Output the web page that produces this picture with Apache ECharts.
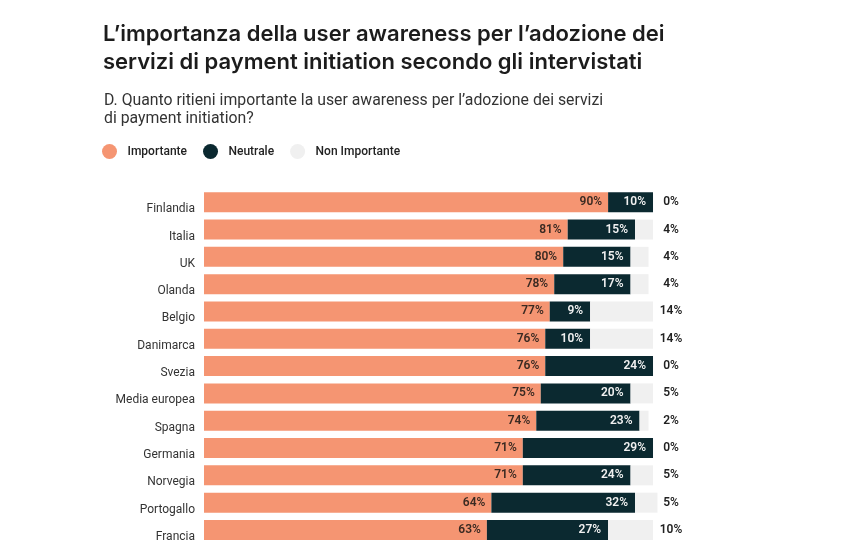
<!DOCTYPE html>
<html>
<head>
<meta charset="utf-8">
<script src="https://cdn.jsdelivr.net/npm/echarts@6/dist/echarts.min.js"></script>
<style>
html,body{margin:0;padding:0;background:#fff;}
#chart{width:850px;height:560px;}
</style>
</head>
<body>
<div id="chart"></div>
<script>
const titleText = "L’importanza della user awareness per l’adozione dei\nservizi di payment initiation secondo gli intervistati";
const subtitleText = "D. Quanto ritieni importante la user awareness per l’adozione dei servizi\ndi payment initiation?";
const categories = ["Finlandia","Italia","UK","Olanda","Belgio","Danimarca","Svezia","Media europea","Spagna","Germania","Norvegia","Portogallo","Francia"];
const importante = [90,81,80,78,77,76,76,75,74,71,71,64,63];
const neutrale = [10,15,15,17,9,10,24,20,23,29,24,32,27];
const nonImportante = [0,4,4,4,14,14,0,5,2,0,5,5,10];
const seriesNames = ["Importante","Neutrale","Non Importante"];
const colors = ["#F59572","#0B2930","#F0F0F0"];

const chart = echarts.init(document.getElementById('chart'));
const font = 'Roboto';
chart.setOption({
  backgroundColor: '#ffffff',
  animation: false,
  title: [
    {text: titleText, left: 98, top: 15,
     textStyle: {fontFamily: 'Inter', fontWeight: 600, fontSize: 22, lineHeight: 28, color: '#1c1c1c'}},
    {text: subtitleText, left: 99, top: 87,
     textStyle: {fontFamily: font, fontWeight: 400, fontSize: 15.8, lineHeight: 18, color: '#333333'}}
  ],
  legend: {
    data: seriesNames,
    left: 97, top: 139,
    icon: 'circle',
    itemWidth: 26, itemHeight: 15, itemGap: 16,
    selectedMode: false,
    textStyle: {fontFamily: font, fontWeight: 500, fontSize: 12, color: '#222'}
  },
  grid: {left: 204, right: 192.5, top: 188.6, bottom: 16.4, containLabel: false},
  xAxis: {type: 'value', min: 0, max: 101, show: false},
  yAxis: [
    {type: 'category', data: categories, inverse: true,
     axisLine: {show: false}, axisTick: {show: false},
     axisLabel: {margin: 9, fontFamily: font, fontSize: 12, color: '#333', verticalAlign: 'top', lineHeight: 14}},
    {type: 'category', data: categories, inverse: true, position: 'right',
     axisLine: {show: false}, axisTick: {show: false},
     axisLabel: {margin: 13.5, align: 'center', fontFamily: font, fontWeight: 600, fontSize: 12, color: '#222',
       formatter: function(v, i){ return nonImportante[i] + '%'; }}}
  ],
  series: [
    {name: seriesNames[0], type: 'bar', stack: 'tot', data: importante, barWidth: 20,
     itemStyle: {color: colors[0]},
     label: {show: true, position: 'insideRight', distance: 6, formatter: '{c}%',
       fontFamily: font, fontWeight: 600, fontSize: 12, color: '#3a2a22'}},
    {name: seriesNames[1], type: 'bar', stack: 'tot', data: neutrale, barWidth: 20,
     itemStyle: {color: colors[1]},
     label: {show: true, position: 'insideRight', distance: 7, formatter: '{c}%',
       fontFamily: font, fontWeight: 600, fontSize: 12, color: '#f0f0f0'}},
    {name: seriesNames[2], type: 'bar', stack: 'tot', data: nonImportante, barWidth: 20,
     itemStyle: {color: colors[2]}}
  ]
});
</script>
</body>
</html>
